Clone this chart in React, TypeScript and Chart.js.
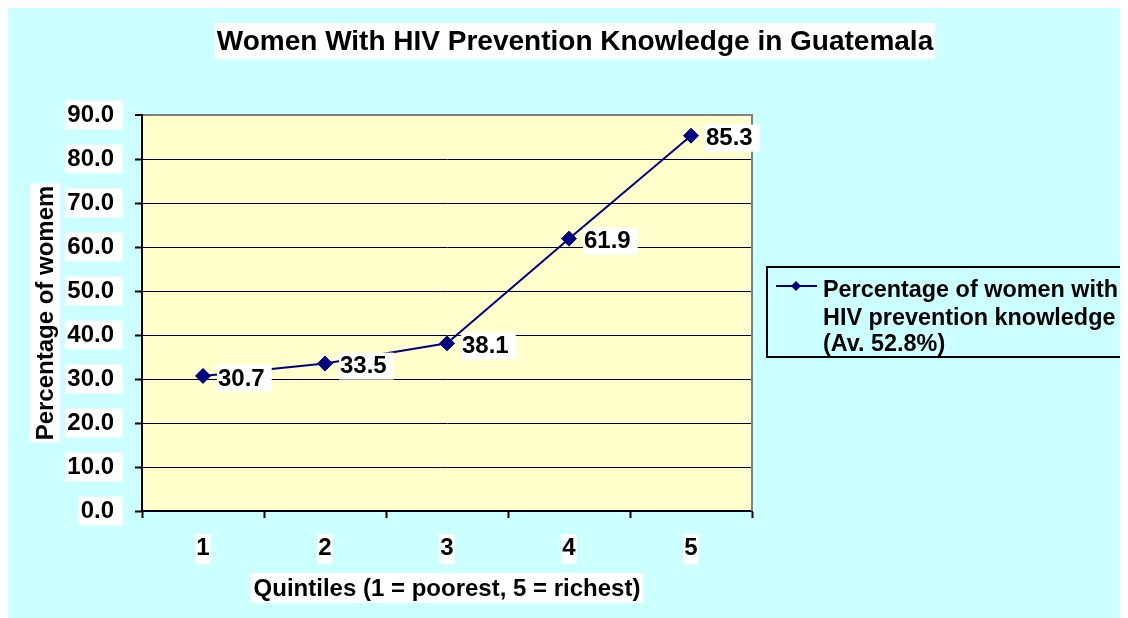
import React, { useEffect, useRef } from "react";
import { Chart, registerables } from "chart.js";

Chart.register(...registerables);

const categories = ["1", "2", "3", "4", "5"];
const values = [30.7, 33.5, 38.1, 61.9, 85.3];
const yMin = 0;
const yMax = 90;
const yStep = 10;
const titleText = "Women With HIV Prevention Knowledge in Guatemala";
const xTitleText = "Quintiles (1 = poorest, 5 = richest)";
const yTitleText = "Percentage of womem";
const legendLines = ["Percentage of women with", "HIV prevention knowledge", "(Av. 52.8%)"];

const FONT = '"Liberation Sans", Arial, Helvetica, sans-serif';
const NAVY = "#000080";
const CYAN = "#CCFFFF";
const YELLOW = "#FFFFCC";

function drawDiamond(ctx: CanvasRenderingContext2D, x: number, y: number, r: number) {
  ctx.beginPath();
  ctx.moveTo(x - r, y);
  ctx.lineTo(x, y - r);
  ctx.lineTo(x + r, y);
  ctx.lineTo(x, y + r);
  ctx.closePath();
  ctx.fill();
}

const decorPlugin = {
  id: "decor",
  beforeDraw(chart: any) {
    const { ctx, width, height, chartArea: a } = chart;
    ctx.save();
    ctx.fillStyle = CYAN;
    ctx.fillRect(0, 0, width, height);
    ctx.fillStyle = YELLOW;
    ctx.fillRect(a.left, a.top, a.right - a.left, a.bottom - a.top);
    ctx.restore();
  },
  beforeDatasetsDraw(chart: any) {
    const { ctx, chartArea: a } = chart;
    ctx.save();
    ctx.strokeStyle = "#808080";
    ctx.lineWidth = 2;
    ctx.beginPath();
    ctx.moveTo(a.right, a.top - 1);
    ctx.lineTo(a.right, a.bottom);
    ctx.stroke();
    ctx.restore();
  },
  afterDatasetsDraw(chart: any) {
    const { ctx } = chart;
    const meta = chart.getDatasetMeta(0);
    ctx.save();
    ctx.font = `bold 24px ${FONT}`;
    ctx.textBaseline = "middle";
    ctx.textAlign = "left";
    meta.data.forEach((pt: any, i: number) => {
      const txt = values[i].toFixed(1);
      const w = ctx.measureText(txt).width;
      const left = pt.x + 14;
      ctx.fillStyle = "#FFFFFF";
      ctx.fillRect(left, pt.y - 11, w + 8, 27);
      ctx.fillStyle = "#000000";
      ctx.fillText(txt, left + 1, pt.y + 3);
    });
    ctx.restore();
  },
  afterDraw(chart: any) {
    const { ctx, chartArea: a } = chart;
    ctx.save();
    // Title
    ctx.font = `bold 28px ${FONT}`;
    ctx.textAlign = "center";
    ctx.textBaseline = "middle";
    let w = ctx.measureText(titleText).width;
    const tcx = 567;
    ctx.fillStyle = "#FFFFFF";
    ctx.fillRect(tcx - w / 2 - 2, 15, w + 4, 36);
    ctx.fillStyle = "#000000";
    ctx.fillText(titleText, tcx, 34);

    // X axis title
    ctx.font = `bold 24px ${FONT}`;
    w = ctx.measureText(xTitleText).width;
    const xcx = (a.left + a.right) / 2;
    ctx.fillStyle = "#FFFFFF";
    ctx.fillRect(xcx - w / 2 - 3, 565, w + 6, 30);
    ctx.fillStyle = "#000000";
    ctx.fillText(xTitleText, xcx, 581);

    // Y axis title
    w = ctx.measureText(yTitleText).width;
    ctx.save();
    ctx.translate(37, (a.top + a.bottom) / 2);
    ctx.rotate(-Math.PI / 2);
    ctx.fillStyle = "#FFFFFF";
    ctx.fillRect(-w / 2 - 2, -15, w + 4, 30);
    ctx.fillStyle = "#000000";
    ctx.fillText(yTitleText, 0, 1);
    ctx.restore();

    // Legend
    ctx.strokeStyle = "#000000";
    ctx.lineWidth = 2;
    ctx.strokeRect(759, 259, 380, 90);
    ctx.strokeStyle = NAVY;
    ctx.lineWidth = 2;
    ctx.beginPath();
    ctx.moveTo(768, 278);
    ctx.lineTo(809, 278);
    ctx.stroke();
    ctx.fillStyle = NAVY;
    drawDiamond(ctx, 788, 278, 5);
    ctx.fillStyle = "#000000";
    ctx.font = `bold 23.4px ${FONT}`;
    ctx.textAlign = "left";
    ctx.textBaseline = "alphabetic";
    const baselines = [289, 317, 343];
    legendLines.forEach((ln, i) => ctx.fillText(ln, 815, baselines[i]));
    ctx.restore();
  },
};

export default function App() {
  const ref = useRef<HTMLCanvasElement | null>(null);
  useEffect(() => {
    if (!ref.current) return;
    const chart = new Chart(ref.current, {
      type: "line",
      data: {
        labels: categories,
        datasets: [
          {
            label: legendLines.join(" "),
            data: values,
            borderColor: NAVY,
            backgroundColor: NAVY,
            borderWidth: 2,
            pointStyle: "rectRot",
            pointRadius: 7.5,
            pointBorderWidth: 1,
            pointBackgroundColor: NAVY,
            pointBorderColor: NAVY,
            tension: 0,
            fill: false,
          },
        ],
      },
      options: {
        animation: false,
        responsive: false,
        layout: { padding: { left: 0, top: 107, right: 376, bottom: 0 } },
        plugins: {
          legend: { display: false },
          title: { display: false },
          tooltip: { enabled: false },
        },
        scales: {
          x: {
            type: "category",
            offset: true,
            afterFit: (s: any) => {
              s.height = 107;
            },
            grid: {
              offset: true,
              drawOnChartArea: false,
              drawTicks: true,
              tickLength: 7,
              tickColor: "#000000",
              tickWidth: 2,
            },
            border: { display: true, color: "#000000", width: 2 },
            ticks: {
              color: "#000000",
              font: { family: FONT, size: 24, weight: "bold" },
              padding: 16,
              maxRotation: 0,
              showLabelBackdrop: true,
              backdropColor: "#FFFFFF",
              backdropPadding: { top: 0, bottom: 1, left: 1, right: 1 },
            },
          },
          y: {
            min: yMin,
            max: yMax,
            afterFit: (s: any) => {
              s.width = 134;
            },
            grid: {
              color: (c: any) => (c.tick && c.tick.value === yMax ? "#808080" : "#000000"),
              lineWidth: (c: any) => (c.tick && c.tick.value === yMax ? 2 : 1),
              tickLength: 7,
              tickColor: "#000000",
              tickWidth: 2,
            },
            border: { display: true, color: "#000000", width: 2 },
            ticks: {
              stepSize: yStep,
              color: "#000000",
              font: { family: FONT, size: 24, weight: "bold" },
              padding: 21,
              callback: (v: any) => Number(v).toFixed(1),
              showLabelBackdrop: true,
              backdropColor: "#FFFFFF",
              backdropPadding: { top: 0, bottom: 0, left: 2, right: 9 },
            },
          },
        },
      },
      plugins: [decorPlugin],
    } as any);
    return () => chart.destroy();
  }, []);
  return (
    <div style={{ width: 1120, height: 610 }}>
      <canvas ref={ref} width={1120} height={610} style={{ display: "block" }} />
    </div>
  );
}
